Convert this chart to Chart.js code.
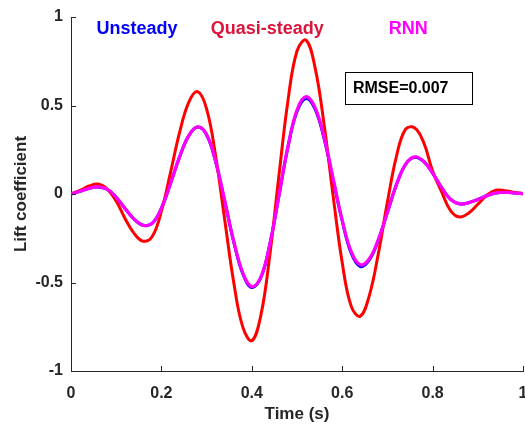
<!DOCTYPE html>
<html>
<head>
<meta charset="utf-8">
<script src="https://cdn.jsdelivr.net/npm/chart.js@4.4.1/dist/chart.umd.min.js"></script>
<style>
  html, body { margin: 0; padding: 0; background: #fff; }
  #wrap { width: 525px; height: 425px; }
</style>
</head>
<body>
<div id="wrap"><canvas id="liftChart" width="525" height="425"></canvas></div>
<script>
// values
const time = [
  0, 0.02, 0.04, 0.06, 0.08, 0.10, 0.12, 0.14, 0.16, 0.18,
  0.20, 0.22, 0.24, 0.26, 0.28, 0.30, 0.32, 0.34, 0.36, 0.38,
  0.40, 0.42, 0.44, 0.46, 0.48, 0.50, 0.52, 0.54, 0.56, 0.58,
  0.60, 0.62, 0.64, 0.66, 0.68, 0.70, 0.72, 0.74, 0.76, 0.78,
  0.80, 0.82, 0.84, 0.86, 0.88, 0.90, 0.92, 0.94, 0.96, 0.98, 1.00
];

const unsteady = [
  0, 0.015, 0.032, 0.040, 0.027, -0.019, -0.083, -0.143, -0.177, -0.165,
  -0.080, 0.058, 0.208, 0.327, 0.378, 0.334, 0.182, -0.040, -0.270, -0.450,
  -0.528, -0.473, -0.283, -0.011, 0.265, 0.466, 0.540, 0.480, 0.312, 0.080,
  -0.152, -0.335, -0.410, -0.372, -0.260, -0.104, 0.052, 0.166, 0.207, 0.184,
  0.118, 0.036, -0.031, -0.056, -0.049, -0.031, -0.010, 0.006, 0.010, 0.006, 0.002
];

const quasiSteady = [
  0, 0.020, 0.045, 0.056, 0.028, -0.040, -0.141, -0.224, -0.267, -0.239,
  -0.097, 0.119, 0.345, 0.515, 0.578, 0.481, 0.215, -0.144, -0.499, -0.751,
  -0.829, -0.686, -0.342, 0.103, 0.527, 0.808, 0.869, 0.714, 0.391, -0.012,
  -0.387, -0.635, -0.690, -0.574, -0.336, -0.046, 0.213, 0.365, 0.374, 0.293,
  0.130, 0.012, -0.095, -0.130, -0.107, -0.058, -0.007, 0.021, 0.019, 0.010, 0.003
];

const rnn = [
  0, 0.015, 0.032, 0.040, 0.027, -0.019, -0.083, -0.143, -0.177, -0.165,
  -0.080, 0.058, 0.208, 0.327, 0.379, 0.336, 0.184, -0.037, -0.267, -0.445,
  -0.523, -0.470, -0.281, -0.009, 0.269, 0.475, 0.550, 0.488, 0.320, 0.087,
  -0.148, -0.326, -0.400, -0.366, -0.257, -0.103, 0.053, 0.168, 0.210, 0.185,
  0.118, 0.036, -0.031, -0.056, -0.049, -0.031, -0.010, 0.006, 0.010, 0.006, 0.002
];

const xTicks = [0, 0.2, 0.4, 0.6, 0.8, 1];
const yTicks = [-1, -0.5, 0, 0.5, 1];

const seriesNames = ['Unsteady', 'Quasi-steady', 'RNN'];
const rmseText = 'RMSE=0.007';

const axisColor = '#262626';
const fontFamily = '"Liberation Sans", Arial, Helvetica, sans-serif';

function toPoints(values){
  return time.map((t, i) => ({ x: t, y: values[i] }));
}

// MATLAB style inward ticks, text labels and the RMSE box
const decorPlugin = {
  id: 'decor',
  afterDraw(chart){
    const ctx = chart.ctx;
    const area = chart.chartArea;
    const xs = chart.scales.x;
    const ys = chart.scales.y;

    ctx.save();
    ctx.strokeStyle = axisColor;
    ctx.lineWidth = 1;
    ctx.beginPath();
    xTicks.forEach(v => {
      const px = Math.round(xs.getPixelForValue(v)) + 0.5;
      ctx.moveTo(px, area.bottom);
      ctx.lineTo(px, area.bottom - 5);
    });
    yTicks.forEach(v => {
      const py = Math.round(ys.getPixelForValue(v)) + 0.5;
      ctx.moveTo(area.left, py);
      ctx.lineTo(area.left + 5, py);
    });
    ctx.stroke();

    // series names as coloured text
    const labelPos = [0.146, 0.434, 0.746];
    const labelColors = ['#0000ff', '#dc143c', '#ff00ff'];
    ctx.font = 'bold 18px ' + fontFamily;
    ctx.textAlign = 'center';
    ctx.textBaseline = 'middle';
    seriesNames.forEach((name, i) => {
      ctx.fillStyle = labelColors[i];
      ctx.fillText(name, xs.getPixelForValue(labelPos[i]), ys.getPixelForValue(0.93));
    });

    // RMSE box
    const bx0 = xs.getPixelForValue(0.606);
    const bx1 = xs.getPixelForValue(0.887);
    const by0 = ys.getPixelForValue(0.689);
    const by1 = ys.getPixelForValue(0.508);
    ctx.fillStyle = '#ffffff';
    ctx.fillRect(bx0, by0, bx1 - bx0, by1 - by0);
    ctx.strokeStyle = '#000000';
    ctx.strokeRect(Math.round(bx0) + 0.5, Math.round(by0) + 0.5, Math.round(bx1 - bx0), Math.round(by1 - by0));
    ctx.fillStyle = '#000000';
    ctx.font = 'bold 16px ' + fontFamily;
    ctx.textAlign = 'left';
    ctx.fillText(rmseText, bx0 + 8, (by0 + by1) / 2 + 1);
    ctx.restore();
  }
};

function loadChart(){

  const ctx = document.getElementById('liftChart');

  new Chart(ctx, {
    type: 'line',
    data: {
      datasets: [
        {
          label: seriesNames[0],
          data: toPoints(unsteady),
          borderColor: '#0000ff',
          borderWidth: 3,
          order: 2
        },
        {
          label: seriesNames[1],
          data: toPoints(quasiSteady),
          borderColor: '#ff0000',
          borderWidth: 3,
          order: 1
        },
        {
          label: seriesNames[2],
          data: toPoints(rnn),
          borderColor: '#ff00ff',
          borderWidth: 3.2,
          order: 0
        }
      ]
    },
    options: {
      responsive: false,
      animation: false,
      devicePixelRatio: 1,
      layout: { padding: { top: 17, right: 2, left: 0, bottom: 0 } },
      elements: {
        point: { radius: 0 },
        line: { tension: 0.4, fill: false }
      },
      plugins: {
        legend: { display: false },
        tooltip: { enabled: false }
      },
      scales: {
        x: {
          type: 'linear',
          min: 0,
          max: 1,
          afterBuildTicks: s => { s.ticks = xTicks.map(v => ({ value: v })); },
          afterFit: s => { s.height = 54; s.paddingLeft = 0; s.paddingRight = 0; },
          grid: { display: true, drawOnChartArea: false, drawTicks: false },
          border: { display: true, color: axisColor, width: 1 },
          ticks: {
            color: axisColor,
            padding: 13,
            maxRotation: 0,
            callback: v => String(v),
            font: { family: fontFamily, size: 16, weight: 'bold' }
          },
          title: {
            display: true,
            text: 'Time (s)',
            color: axisColor,
            padding: { top: 0, bottom: 0 },
            font: { family: fontFamily, size: 17, weight: 'bold' }
          }
        },
        y: {
          min: -1,
          max: 1,
          afterBuildTicks: s => { s.ticks = yTicks.map(v => ({ value: v })); },
          afterFit: s => { s.width = 71; s.paddingTop = 0; s.paddingBottom = 0; },
          grid: { display: true, drawOnChartArea: false, drawTicks: false },
          border: { display: true, color: axisColor, width: 1 },
          ticks: {
            color: axisColor,
            padding: 8,
            callback: v => String(v),
            font: { family: fontFamily, size: 16, weight: 'bold' }
          },
          title: {
            display: true,
            text: 'Lift coefficient',
            color: axisColor,
            padding: { top: 11, bottom: 0 },
            font: { family: fontFamily, size: 17, weight: 'bold' }
          }
        }
      }
    },
    plugins: [decorPlugin]
  });

}

loadChart();
</script>
</body>
</html>
